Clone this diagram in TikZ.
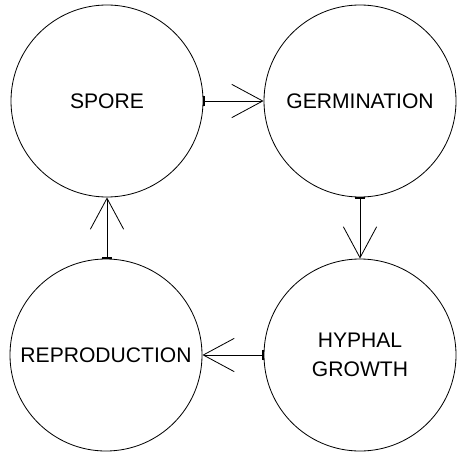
\documentclass[tikz,border=0pt]{standalone}
\usepackage{fontspec}
\setmainfont{Liberation Sans}
\usetikzlibrary{arrows.meta}

\begin{document}
\begin{tikzpicture}[
    x=0.03cm, y=-0.03cm,
    stage/.style = {circle, draw, line width=0.7pt, minimum size=5.76cm, inner sep=0pt,
        align=center, font=\fontsize{18}{24.5}\selectfont},
    cycle/.style = {draw, line width=0.7pt,
        {Bar[width=2.8mm,line width=1.2pt]}-{Straight Barb[length=9.3mm,width=10mm,line width=0.7pt]}}
     ]
  \useasboundingbox (0,0) rectangle (458,454);
  \node[stage] (spore) at (107,101) {SPORE};
  \node[stage] (germ)  at (360,101) {GERMINATION};
  \node[stage] (hypha) at (360,355) {HYPHAL\\GROWTH};
  \node[stage] (repro) at (106,355) {REPRODUCTION};
  \draw[cycle] (spore) -- (germ);
  \draw[cycle] (germ) -- (hypha);
  \draw[cycle] (hypha) -- (repro);
  \draw[cycle] (repro.north -| spore) -- (spore.south);
\end{tikzpicture}
\end{document}
